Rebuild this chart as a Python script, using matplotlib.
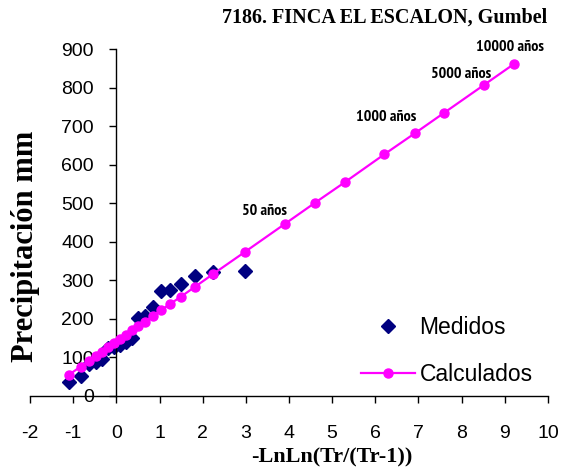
import matplotlib
matplotlib.use("Agg")
import matplotlib.pyplot as plt
from matplotlib import font_manager as fm

plt.rcParams["axes.unicode_minus"] = False

# Measured (Weibull plotting positions) and calculated Gumbel values
x_med = [2.97, 2.25, 1.82, 1.50, 1.25, 1.03, 0.84, 0.67, 0.51, 0.37,
         0.23, 0.09, -0.05, -0.19, -0.33, -0.48, -0.64, -0.83, -1.10]
y_med = [323, 322, 312, 290, 275, 272, 230, 207, 202, 150,
         140, 133, 128, 125, 95, 88, 82, 52, 37]

x_calc = [-1.10, -0.83, -0.64, -0.48, -0.33, -0.19, -0.05, 0.09, 0.23, 0.37,
          0.51, 0.67, 0.84, 1.03, 1.25, 1.50, 1.82, 2.25, 2.97,
          3.90, 4.60, 5.30, 6.21, 6.91, 7.60, 8.52, 9.21]
y_calc = [55, 76, 91, 104, 115, 126, 137, 148, 159, 170,
          181, 193, 207, 222, 239, 258, 283, 317, 373,
          446, 501, 555, 627, 681, 735, 807, 861]

labels = ["50 años", "1000 años", "5000 años", "10000 años"]
label_idx = [19, 23, 25, 26]
label_offsets = [(-20, 13), (-28, 16), (-23, 11), (-4, 17)]

xticks = list(range(-2, 11))
yticks = list(range(0, 1000, 100))


def find_condensed_bold():
    cands = []
    for f in fm.fontManager.ttflist:
        nm = f.name.lower()
        fn = f.fname.lower()
        w = f.weight if isinstance(f.weight, int) else 700 if "bold" in str(f.weight) else 400
        if w < 600 and "bold" not in fn:
            continue
        if "narrow" in nm or "narrow" in fn:
            cands.append((0, f.fname))
        elif "condensed" in nm or "condensed" in fn or f.stretch in ("condensed", "semi-condensed"):
            if "sans" in nm and "mono" not in nm and "serif" not in nm:
                cands.append((1, f.fname))
    cands.sort()
    return cands[0][1] if cands else None


cond = find_condensed_bold()
if cond:
    ann_prop = fm.FontProperties(fname=cond, size=11.5)
else:
    ann_prop = fm.FontProperties(family="Liberation Sans", weight="bold", size=9)

fig = plt.figure(figsize=(5.66, 4.70), dpi=100)
ax = fig.add_axes([30 / 566, 1 - 396 / 470, (548 - 30) / 566, (396 - 49) / 470])

ax.plot(x_calc, y_calc, color="#FF00FF", lw=1.6, marker="o", ms=6.5,
        markeredgecolor="#FF00FF", label="Calculados", zorder=3)
ax.plot(x_med, y_med, linestyle="none", marker="D", ms=7.5, color="#000080",
        label="Medidos", zorder=2)

ax.set_xlim(-2, 10)
ax.set_ylim(0, 900)
ax.set_xticks(xticks)
ax.set_yticks(yticks)
ax.spines["left"].set_position(("data", 0))
ax.spines["bottom"].set_position(("data", 0))
ax.spines["top"].set_visible(False)
ax.spines["right"].set_visible(False)
for s in ("left", "bottom"):
    ax.spines[s].set_linewidth(1.0)

ax.tick_params(axis="both", direction="out", length=5, width=1,
               labelsize=14)
ax.tick_params(axis="y", pad=11)
ax.tick_params(axis="x", pad=16)
for lab in ax.get_xticklabels() + ax.get_yticklabels():
    lab.set_fontfamily("Liberation Sans")

for lbl, i, off in zip(labels, label_idx, label_offsets):
    ax.annotate(lbl, (x_calc[i], y_calc[i]), xytext=off,
                textcoords="offset pixels", ha="center", va="center",
                fontproperties=ann_prop)

handles, leg_labels = ax.get_legend_handles_labels()
leg = ax.legend(handles[::-1], leg_labels[::-1], loc="center left",
                bbox_to_anchor=(361 / 566, 1 - 351 / 470),
                bbox_transform=fig.transFigure, frameon=False,
                prop={"family": "Liberation Sans", "size": 16.5},
                handlelength=2.35, labelspacing=1.05, handletextpad=0.2,
                borderaxespad=0, borderpad=0)

fig.text(385 / 566, 1 - 18 / 470, "7186. FINCA EL ESCALON, Gumbel",
         ha="center", va="center", fontsize=14.5, fontweight="bold",
         family="Liberation Serif")
fig.text(332 / 566, 1 - 457 / 470, "-LnLn(Tr/(Tr-1))",
         ha="center", va="center", fontsize=16, fontweight="bold",
         family="Liberation Serif")
fig.text(26 / 566, 1 - 246 / 470, "Precipitación mm", rotation=90,
         ha="center", va="center", fontsize=22, fontweight="bold",
         family="Liberation Serif")

fig.savefig("out.png", dpi=100)
